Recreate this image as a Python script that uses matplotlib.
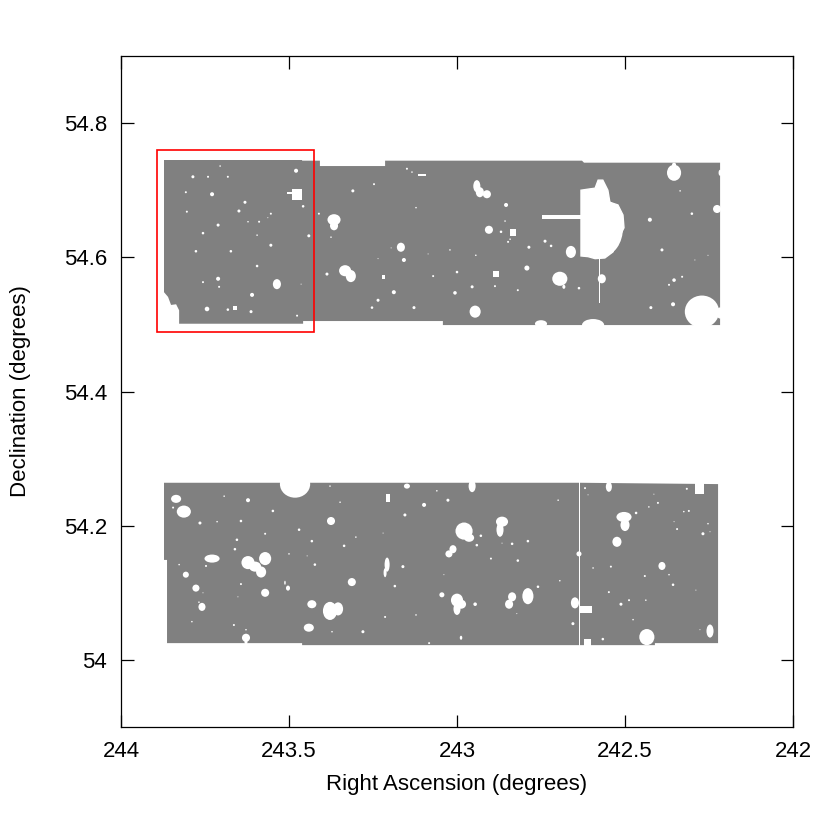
import matplotlib
matplotlib.use("Agg")
import matplotlib.pyplot as plt
from matplotlib.patches import Ellipse, Polygon, Rectangle

plt.rcParams['font.family'] = ['Liberation Sans', 'DejaVu Sans']

# Outline of the two survey fields (RA, Dec in degrees)
north_ra = [243.872, 243.461, 243.461, 243.408, 243.408, 243.214, 243.214, 242.628, 242.622, 242.217,
            242.217, 243.042, 243.042, 243.458, 243.458, 243.827, 243.827, 243.836, 243.851, 243.860, 243.872]
north_dec = [54.745, 54.745, 54.744, 54.744, 54.736, 54.736, 54.744, 54.744, 54.741, 54.741,
             54.499, 54.499, 54.505, 54.505, 54.501, 54.501, 54.521, 54.530, 54.529, 54.541, 54.548]
south_ra = [243.872, 242.634, 242.223, 242.223, 242.411, 242.411, 243.461, 243.461, 243.863, 243.863, 243.872]
south_dec = [54.264, 54.264, 54.262, 54.025, 54.025, 54.022, 54.022, 54.025, 54.025, 54.149, 54.149]

# Small round masked stars: RA, Dec, diameter (degrees of Dec)
dot_ra = [243.705, 243.786, 243.741, 243.682, 243.479, 243.807, 243.729, 243.631, 243.649, 243.804,
          243.554, 243.458, 243.711, 243.589, 243.622, 243.563, 243.756, 243.595, 243.441, 243.554,
          243.777, 243.673, 243.595, 243.711, 243.756, 243.708, 243.464, 243.610, 243.744, 243.682,
          243.613, 243.476, 243.411, 243.375, 243.310, 243.247, 243.149, 243.134, 243.122, 243.158,
          243.196, 243.235, 243.086, 243.387, 243.071, 243.188, 243.235, 243.253, 243.128,
          242.854, 242.857, 242.905, 242.869, 242.842, 242.848, 242.786, 242.738, 242.720, 242.944,
          243.021, 243.000, 242.792, 242.955, 242.887, 243.006, 242.819, 242.637, 242.336, 242.426,
          242.301, 242.390, 242.292, 242.253, 242.330, 242.354, 242.369, 242.357, 242.423,
          243.845, 243.693, 243.622, 243.548, 243.765, 243.714, 243.643, 243.571, 243.470, 243.348,
          243.098, 243.155, 243.027, 243.060, 243.378, 243.655, 243.661, 243.432, 243.336, 243.301,
          243.220, 243.500, 243.446, 243.423, 243.827, 243.747, 243.807, 243.777, 243.756, 243.768,
          243.643, 243.652, 243.571, 243.313, 243.161, 243.185, 243.039, 243.045, 243.214, 243.122,
          243.789, 243.664, 243.628, 243.372, 243.280, 243.083, 242.699, 242.929, 242.941, 242.866,
          242.836, 242.789, 242.899, 242.819, 242.694, 242.759, 242.946, 242.822, 242.655, 242.637,
          242.619, 242.610, 242.316, 242.414, 242.402, 242.429, 242.467, 242.325, 242.310, 242.354,
          242.345, 242.253, 242.268, 242.247, 242.542, 242.595, 242.441, 242.369, 242.357, 242.289,
          242.548, 242.488, 242.512, 242.438, 242.476, 242.566, 242.277]
dot_dec = [54.736, 54.720, 54.720, 54.720, 54.729, 54.697, 54.694, 54.682, 54.669, 54.668,
           54.665, 54.676, 54.648, 54.653, 54.653, 54.659, 54.636, 54.633, 54.632, 54.618,
           54.609, 54.609, 54.587, 54.568, 54.563, 54.556, 54.560, 54.544, 54.523, 54.522,
           54.519, 54.513, 54.665, 54.630, 54.699, 54.709, 54.732, 54.727, 54.674, 54.596,
           54.614, 54.598, 54.605, 54.575, 54.572, 54.548, 54.536, 54.525, 54.525,
           54.678, 54.654, 54.641, 54.638, 54.627, 54.623, 54.615, 54.624, 54.617, 54.603,
           54.611, 54.578, 54.584, 54.556, 54.557, 54.547, 54.551, 54.554, 54.699, 54.656,
           54.665, 54.611, 54.596, 54.603, 54.571, 54.566, 54.559, 54.530, 54.525,
           54.227, 54.244, 54.238, 54.222, 54.204, 54.206, 54.207, 54.188, 54.194, 54.235,
           54.231, 54.216, 54.238, 54.252, 54.259, 54.179, 54.165, 54.177, 54.170, 54.183,
           54.189, 54.158, 54.155, 54.142, 54.142, 54.140, 54.127, 54.107, 54.100, 54.086,
           54.113, 54.094, 54.100, 54.116, 54.139, 54.110, 54.127, 54.097, 54.064, 54.067,
           54.057, 54.052, 54.045, 54.042, 54.042, 54.025, 54.238, 54.185, 54.171, 54.174,
           54.173, 54.177, 54.151, 54.148, 54.118, 54.109, 54.083, 54.069, 54.054, 54.158,
           54.256, 54.246, 54.255, 54.247, 54.234, 54.228, 54.219, 54.221, 54.222, 54.206,
           54.195, 54.203, 54.188, 54.191, 54.139, 54.137, 54.125, 54.127, 54.112, 54.104,
           54.101, 54.089, 54.083, 54.089, 54.060, 54.031, 54.045]
dot_size = [.0023, .0045, .003, .003, .006, .003, .006, .0045, .0045, .003,
            .003, .0038, .0045, .003, .0023, .0015, .0038, .0023, .0045, .0045,
            .0038, .0038, .0038, .006, .003, .003, .0015, .006, .0068, .0038,
            .0045, .003, .003, .0023, .0045, .003, .003, .0023, .0023, .006,
            .0015, .0015, .0015, .0045, .003, .006, .0045, .0038, .0045,
            .006, .0023, .012, .0038, .0023, .003, .0045, .0045, .0038, .0023,
            .0023, .0038, .0075, .0045, .003, .0053, .003, .0038, .0023, .006,
            .0038, .0045, .0015, .0015, .003, .0053, .003, .006, .0045,
            .003, .0023, .006, .0038, .0045, .0023, .0038, .003, .0038, .0023,
            .006, .0045, .0045, .0023, .0023, .0038, .0038, .0038, .0038, .0023,
            .0015, .0023, .0015, .0038, .0023, .003, .009, .0105, .0015, .0023,
            .003, .0015, .012, .012, .0045, .0038, .0015, .0075, .003, .0023,
            .0023, .003, .0023, .0023, .0045, .003, .0023, .0038, .0038, .0015,
            .0038, .0038, .003, .0038, .0023, .0038, .0053, .0015, .0045, .0075,
            .003, .0015, .003, .0015, .003, .0023, .0038, .0023, .003, .0015,
            .003, .0023, .0045, .0015, .003, .0023, .003, .0023, .0038, .0015,
            .003, .003, .0045, .0023, .0023, .0038, .0015]

# Larger masked regions as ellipses: RA, Dec, width (deg RA), height (deg Dec)
blob_ra = [243.536, 243.366, 243.366, 243.167, 243.333, 243.316, 242.941, 242.932, 242.911, 242.661,
           242.694, 242.682, 242.946, 242.750, 242.595, 242.569, 242.354, 242.354, 242.217, 242.226,
           242.271, 242.217, 243.482, 243.836, 243.813, 243.375, 243.149, 243.729, 243.622, 243.571,
           243.583, 243.601, 243.759, 243.512, 243.503, 243.208, 243.214, 243.432, 243.378, 243.354,
           243.441, 243.628, 243.628, 242.955, 242.979, 242.964, 242.866, 242.872, 243.012, 243.024,
           243.000, 242.988, 243.000, 242.836, 242.845, 242.789, 242.988, 242.649, 242.548, 242.503,
           242.500, 242.524, 242.390, 242.435, 242.247, 242.566]
blob_dec = [54.560, 54.656, 54.647, 54.615, 54.580, 54.572, 54.706, 54.697, 54.694, 54.608,
            54.568, 54.556, 54.519, 54.501, 54.499, 54.568, 54.726, 54.738, 54.726, 54.672,
            54.519, 54.517, 54.262, 54.240, 54.221, 54.207, 54.259, 54.151, 54.145, 54.151,
            54.131, 54.139, 54.079, 54.115, 54.107, 54.142, 54.130, 54.083, 54.073, 54.076,
            54.048, 54.033, 54.027, 54.259, 54.192, 54.182, 54.206, 54.194, 54.165, 54.158,
            54.089, 54.083, 54.076, 54.094, 54.083, 54.095, 54.033, 54.085, 54.258, 54.213,
            54.201, 54.176, 54.140, 54.034, 54.043, 54.644]
blob_w = [.024, .039, .024, .024, .036, .030, .021, .024, .024, .030,
          .045, .009, .033, .036, .066, .024, .042, .012, .009, .024,
          .102, .024, .090, .030, .042, .024, .018, .045, .039, .036,
          .030, .036, .021, .0045, .012, .015, .009, .027, .042, .030,
          .030, .024, .009, .021, .051, .030, .036, .021, .021, .021,
          .036, .030, .021, .024, .024, .033, .0075, .024, .018, .045,
          .027, .027, .021, .045, .021, .120]
blob_h = [.015, .0165, .0135, .0135, .0165, .018, .018, .015, .012, .018,
          .021, .006, .018, .0105, .018, .0135, .024, .006, .009, .012,
          .048, .0165, .0405, .012, .018, .012, .0075, .012, .0195, .0195,
          .0165, .015, .012, .006, .0075, .021, .0135, .012, .027, .0195,
          .012, .012, .0075, .018, .0255, .012, .015, .021, .012, .0105,
          .0195, .0135, .018, .0135, .0135, .024, .006, .0165, .015, .015,
          .018, .015, .012, .024, .0195, .084]

# Rectangular cuts: RA left, RA right, Dec low, Dec high
cut_ra0 = [243.491, 243.506, 243.116, 243.667, 243.222, 242.842, 242.894, 242.747, 242.578,
           243.211, 242.637, 242.634, 242.622, 242.292]
cut_ra1 = [243.461, 243.491, 243.092, 243.655, 243.213, 242.824, 242.874, 242.631, 242.575,
           243.199, 242.633, 242.598, 242.601, 242.265]
cut_dec0 = [54.685, 54.694, 54.721, 54.522, 54.568, 54.632, 54.571, 54.657, 54.532,
            54.236, 54.020, 54.070, 54.020, 54.247]
cut_dec1 = [54.702, 54.697, 54.724, 54.527, 54.574, 54.642, 54.579, 54.663, 54.598,
            54.247, 54.270, 54.080, 54.031, 54.270]

# The big mask around the bright star
bright_ra = [242.631, 242.604, 242.589, 242.580, 242.566, 242.551, 242.545, 242.521, 242.506, 242.503,
             242.521, 242.536, 242.560, 242.589, 242.610, 242.631]
bright_dec = [54.700, 54.702, 54.703, 54.715, 54.715, 54.700, 54.682, 54.678, 54.663, 54.644,
              54.626, 54.608, 54.599, 54.598, 54.601, 54.602]

# Red box
box_ra = [243.893, 243.426]
box_dec = [54.489, 54.76]

x_ticks = [244, 243.5, 243, 242.5, 242]
x_labels = ["244", "243.5", "243", "242.5", "242"]
y_ticks = [54, 54.2, 54.4, 54.6, 54.8]
y_labels = ["54", "54.2", "54.4", "54.6", "54.8"]

fig = plt.figure(figsize=(8.3, 8.3), dpi=100)
ax = fig.add_axes([121 / 830, 1 - 727 / 830, 672 / 830, 671 / 830])

grey = "#808080"
ax.add_patch(Polygon(list(zip(north_ra, north_dec)), closed=True, fc=grey, ec="none", zorder=1))
ax.add_patch(Polygon(list(zip(south_ra, south_dec)), closed=True, fc=grey, ec="none", zorder=1))

for r, d, s in zip(dot_ra, dot_dec, dot_size):
    ax.add_patch(Ellipse((r, d), s * 2, s, fc="white", ec="none", zorder=2))
for r, d, w, h in zip(blob_ra, blob_dec, blob_w, blob_h):
    ax.add_patch(Ellipse((r, d), w, h, fc="white", ec="none", zorder=2))
for r0, r1, d0, d1 in zip(cut_ra0, cut_ra1, cut_dec0, cut_dec1):
    ax.add_patch(Rectangle((r0, d0), r1 - r0, d1 - d0, fc="white", ec="none", zorder=2))
ax.add_patch(Polygon(list(zip(bright_ra, bright_dec)), closed=True, fc="white", ec="white", lw=1, zorder=2))

ax.add_patch(Rectangle((box_ra[0], box_dec[0]), box_ra[1] - box_ra[0], box_dec[1] - box_dec[0],
                       fill=False, ec="#ff0000", lw=1.2, zorder=3))

ax.set_xlim(244, 242)
ax.set_ylim(53.9, 54.9)
ax.set_xticks(x_ticks)
ax.set_xticklabels(x_labels)
ax.set_yticks(y_ticks)
ax.set_yticklabels(y_labels)
ax.tick_params(direction="in", length=9, width=0.9, top=True, right=True, labelsize=16)
ax.tick_params(axis="x", pad=10)
ax.tick_params(axis="y", pad=10)
for s in ax.spines.values():
    s.set_linewidth(0.9)
    s.set_zorder(5)
ax.set_xlabel("Right Ascension (degrees)", fontsize=16, labelpad=8.5)
ax.set_ylabel("Declination (degrees)", fontsize=16, labelpad=24)

fig.savefig("out.png", dpi=100)
